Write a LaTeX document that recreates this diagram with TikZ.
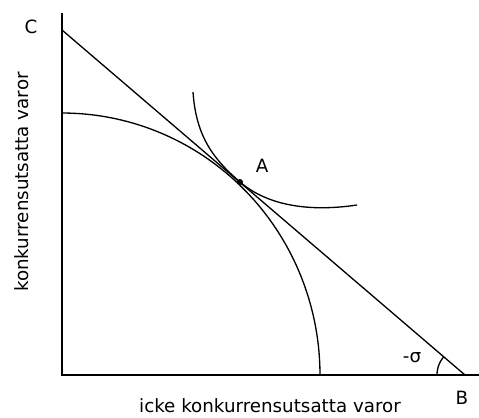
\documentclass[tikz,border=0pt]{standalone}
\usepackage{fontspec}
\setmainfont{DejaVu Sans}
\usepackage{tikz}

\begin{document}
\begin{tikzpicture}[
    x=0.02cm, y=-0.02cm,
    axis/.style={draw=black, line width=1.1pt},
    curve/.style={draw=black, line width=0.75pt},
    lab/.style={font=\fontsize{10.4pt}{12pt}\selectfont, text=black, inner sep=0pt},
  ]
  \useasboundingbox (0,0) rectangle (479,417);

  % points
  \coordinate (O) at (62,375);
  \coordinate (ytop) at (62,13);
  \coordinate (xend) at (479,375);
  \coordinate (C) at (62,30);
  \coordinate (B) at (465,375);
  \coordinate (A) at (240,182);

  % axes
  \draw[axis] (ytop) -- (O) -- (xend);

  % production possibility curve
  \draw[curve] plot[domain=0:90, samples=80] ({62+258*cos(\x)}, {375-262*sin(\x)});

  % price line
  \draw[curve] (C) -- (B);

  % indifference curve
  \draw[curve] (193,92) .. controls (196,135) and (212,158) .. (A)
               .. controls (268,206) and (310,212) .. (357,205);

  % tangency point
  \fill (A) circle[radius=3];

  % angle at B
  \draw[curve] plot[domain=139.4:180, samples=30] ({465+28*cos(\x)}, {375-28*sin(\x)});

  % labels
  \node[lab] (labC) at (31,27) {C};
  \node[lab] (labA) at (262,166) {A};
  \node[lab] (labB) at (462,398) {B};
  \node[lab] (sigma) at (412,358) {-σ};
  \node[lab] (xlab) at (270,406) {icke konkurrensutsatta varor};
  \node[lab, rotate=90] (ylab) at (22,182) {konkurrensutsatta varor};

\end{tikzpicture}
\end{document}
